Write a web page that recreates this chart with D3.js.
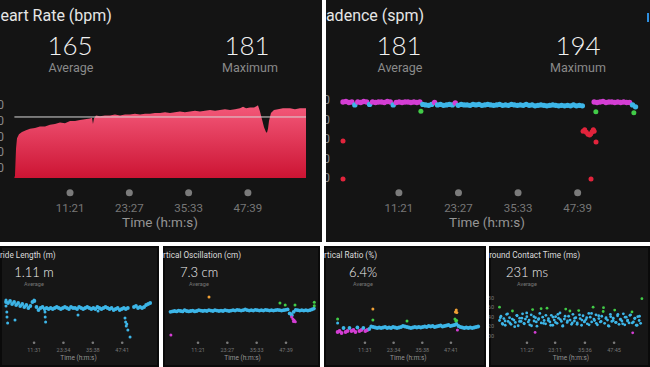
<!DOCTYPE html>
<html><head><meta charset="utf-8">
<script src="https://cdn.jsdelivr.net/npm/d3@7"></script>
<style>body{margin:0;background:#fff;overflow:hidden}svg{display:block;font-family:Roboto,"Helvetica Neue",Arial,sans-serif}.big{font-family:Lato,Roboto,sans-serif}</style>
</head><body><svg id="c" width="650" height="367"></svg>
<script>
// ---------------- DATA ----------------
const timeDomain = [0, 3570];
const mainTickSec = [681, 1407, 2133, 2859];
const mainTickLabels = ["11:21", "23:27", "35:33", "47:39"];

// Heart rate
const hrTime = [0,7,20,32,56,93,142,191,252,313,375,436,497,558,619,681,742,803,864,925,950,962,974,999,1048,1109,1170,1231,1293,1354,1415,1476,1538,1599,1660,1721,1783,1844,1905,1966,2027,2088,2150,2211,2272,2333,2395,2456,2517,2578,2640,2701,2762,2799,2836,2885,2934,2970,2982,3007,3031,3056,3080,3092,3105,3117,3141,3178,3227,3288,3374,3435,3496,3570];
const hrBpm = [88,90,125,138,143,146,148,150,151,153,153,155,156,158,157,160,160,161,162,163,164,156,163,167,166,167,167,168,167,168,168,169,168,169,169,170,170,171,170,171,172,171,172,173,172,173,174,173,174,175,174,175,176,178,176,177,177,179,180,172,162,152,146,145,150,160,170,174,175,176,176,175,176,176];
const hrAverage = 165, hrMaximum = 181;
const hrAxisTicks = [100, 120, 140, 160, 180];

// Cadence (sampled every 36 s)
const cadInterval = 36;
const cadValues = [186,187,185,186,180,186,185,187,186,181,186,185,186,186,185,187,186,180,185,186,185,186,186,185,186,185,186,
181,180,179,181,185,180,181,179,180,181,
180,184,179,181,180,180,179,181,180,181,
179,180,181,180,179,180,181,179,180,179,
181,180,179,180,179,181,179,180,178,179,
180,179,178,179,180,179,178,179,178,179,
178,180,178,179,178,
null,null,null,
186,185,186,187,185,186,186,185,186,185,186,185,185,
180,176];
const cadExtras = [[949,167],[3081,166],[3544,164],[0,106],[0,28],[2925,126],[2945,129],[2965,124],[2985,120],[3005,118],[3020,121],[3035,125],[3050,129],[3060,126],[3083,104],[3022,28]];
const cadAverage = 181, cadMaximum = 194;
const cadAxisTicks = [30, 70, 110, 150, 190];
const cadThresholds = [153, 164, 174, 183];

// Stride length (every 50 s)
const strideInterval = 50;
const strideValues = [1.18,1.17,1.19,1.16,1.18,1.15,1.17,1.14,1.16,1.13,
1.15,1.12,1.14,1.18,1.19,1.13,1.10,1.12,1.13,1.11,
1.12,1.11,1.12,1.11,1.12,1.13,1.12,1.11,1.12,1.13,
1.12,1.11,1.13,1.12,1.12,1.11,1.13,1.12,1.11,1.12,
1.13,1.12,1.11,1.12,1.11,1.13,1.12,1.11,1.12,1.13,
1.12,1.11,1.12,1.10,1.11,1.12,1.10,1.11,1.12,1.11,
1.12,null,null,1.13,1.14,1.12,1.13,1.12,1.13,1.15,1.16,1.17];
const strideExtras = [[0,1.20],[0,1.14],[20,1.08],[25,1.03],[40,0.97],[222,1.00],[690,1.20],[960,1.08],[965,1.03],[975,0.98],[1773,1.05],[2266,1.09],[2930,1.02],[2945,0.98],[2960,0.94],[2975,0.96],[3000,0.90],[3054,0.83]];
const strideTickSec = [691, 1414, 2138, 2861];
const strideTickLabels = ["11:31", "23:34", "35:38", "47:41"];

// Vertical oscillation (every 50 s)
const voInterval = 50;
const voValues = [7.2,7.25,7.3,7.25,7.35,7.3,7.25,7.4,7.3,7.25,
7.3,7.35,7.25,7.3,7.4,7.35,7.3,7.35,7.3,7.4,
7.35,7.3,7.4,7.35,7.3,7.35,7.3,7.4,7.35,7.3,
7.35,7.4,7.35,7.45,7.4,7.35,7.4,7.5,7.4,7.35,
7.4,7.35,7.45,7.4,7.35,7.4,7.35,7.45,7.4,7.35,
7.4,7.35,7.4,7.45,7.4,7.35,7.4,7.45,7.5,7.0,
6.8,7.2,7.45,7.4,7.35,7.4,7.35,7.4,7.35,7.4,7.5,7.6];
const voExtras = [[953,9.05],[10,4.3],[2710,8.3],[2840,8.05],[3082,8.05],[3560,8.4],[3560,7.95],[2990,6.95],[3010,6.75],[3000,6.55],[3030,6.3],[3045,6.0],[3060,6.15],[3090,5.95]];
const voThresholds = [6.6, 7.8, 8.8];

// Vertical ratio (every 50 s)
const vrInterval = 50;
const vrValues = [5.9,6.0,5.8,6.3,5.9,6.0,6.3,6.0,6.1,5.9,
6.35,6.0,6.1,6.3,6.0,6.1,6.2,6.45,6.4,6.35,
6.3,6.35,6.3,6.35,6.4,6.3,6.35,6.3,6.4,6.35,
6.3,6.35,6.4,6.5,6.45,6.4,6.35,6.3,6.35,6.4,
6.35,6.4,6.35,6.4,6.45,6.4,6.5,6.45,6.5,6.4,
6.45,6.5,6.55,6.45,6.5,6.55,6.6,6.5,6.55,6.6,
6.7,6.5,6.4,6.35,6.3,6.35,6.3,6.35,6.3,6.35,6.4,6.45];
const vrExtras = [[0,7.2],[0,6.8],[891,8.2],[891,7.1],[1752,7.0],[2962,7.2],[2985,7.0],[3005,7.05],[2975,7.9],[2995,8.1],[3010,7.85],[3025,6.1]];
const vrThresholds = [6.2, 6.9, 7.7];

// Ground contact time
const gctInterval = 36;
const gctValues = [232,241,226,236,222,245,230,238,224,252,233,228,243,221,237,230,246,226,235,240,
229,223,244,255,231,238,220,234,247,227,239,232,225,258,236,229,243,222,233,240,
226,237,248,230,221,235,256,228,241,233,224,245,231,238,227,253,236,222,242,230,
234,225,247,239,229,260,232,244,223,236,229,241,251,226,238,233,220,245,230,237,
254,228,242,224,235,231,246,223,239,233,227,244,250,229,237,222,240,232,226];
const gctInterval2 = 60, gctOffset2 = 20;
const gctValues2 = [238,224,231,246,227,235,219,242,230,237,225,248,233,221,240,229,236,257,226,243,232,222,239,228,245,234,220,241,231,252,227,237,224,244,233,229,238,223,247,235,226,242,230,259,236,221,240,232,228,245,234,225,239,231,243,227,236,222,241];
const gctExtras = [[890,207],[3330,206],[3560,278],[0,260]];
const gctThresholds = [218, 249, 290];
const gctAxisTicks = [200, 220, 240, 260, 280];
const gctTickSec = [687, 1391, 2136, 2865];
const gctTickLabels = ["11:27", "23:11", "35:36", "47:45"];

// ---------------- DRAWING ----------------
const C = {magenta:"#d43ed4", cyan:"#3db6e8", green:"#42cc48", orange:"#f0a035", red:"#e2243c"};
const svg = d3.select("#c");
const defs = svg.append("defs");

function panel(id, x, y, w, h, fill) {
  defs.append("clipPath").attr("id", id).append("rect").attr("x", x).attr("y", y).attr("width", w).attr("height", h);
  const g = svg.append("g").attr("clip-path", `url(#${id})`);
  g.append("rect").attr("x", x).attr("y", y).attr("width", w).attr("height", h).attr("fill", fill);
  return g;
}
function txt(g, x, y, s, size, fill, anchor, weight) {
  return g.append("text").attr("x", x).attr("y", y).attr("font-size", size).attr("fill", fill)
    .attr("text-anchor", anchor || "middle").attr("font-weight", weight || 400).text(s);
}
function big(g, x, y, s, size) {
  return txt(g, x, y, s, size, "#f2f2f2", "middle", 300).attr("class", "big");
}
function series(values, interval, offset) {
  return values.map((v, i) => ({t: offset + i * interval, v})).filter(d => d.v != null);
}
function dots(g, data, x, y, r, col) {
  g.selectAll(null).data(data).enter().append("circle")
    .attr("cx", d => x(d.t)).attr("cy", d => y(d.v)).attr("r", r).attr("fill", d => col(d.v));
}
function timeAxis(g, x, secs, labels, dotY, dotR, labY, labSize, titleX, titleY, titleSize) {
  g.selectAll(null).data(secs).enter().append("circle")
    .attr("cx", d => x(d)).attr("cy", dotY).attr("r", dotR).attr("fill", "#7b7b7b");
  g.selectAll(null).data(secs).enter().append("text")
    .attr("x", d => x(d)).attr("y", labY).attr("text-anchor", "middle")
    .attr("font-size", labSize).attr("fill", "#777").text((d, i) => labels[i]);
  txt(g, titleX, titleY, "Time (h:m:s)", titleSize, "#959595");
}

// ---- Heart rate panel ----
const g0 = panel("p0", 0, 0, 322, 242, "#141414");
txt(g0, -11, 21, "Heart Rate (bpm)", 16, "#e6e6e6", "start");
big(g0, 70, 54.5, String(hrAverage), 26);
txt(g0, 71, 72, "Average", 12.5, "#8a8a8a");
big(g0, 247, 54.5, String(hrMaximum), 26);
txt(g0, 250, 72, "Maximum", 12.5, "#8a8a8a");
const hx = d3.scaleLinear().domain(timeDomain).range([14.4, 306]);
const hy = d3.scaleLinear().domain([100, 180]).range([168, 105.2]);
const plotBottom = 178;
const grad = defs.append("linearGradient").attr("id", "hrg").attr("gradientUnits", "userSpaceOnUse")
  .attr("x1", 0).attr("x2", 0).attr("y1", 104).attr("y2", plotBottom);
grad.append("stop").attr("offset", 0).attr("stop-color", "#f45a7b");
grad.append("stop").attr("offset", 1).attr("stop-color", "#cc1433");
const hrData = hrTime.map((t, i) => ({t, v: hrBpm[i]}));
g0.append("path").datum(hrData)
  .attr("d", d3.area().x(d => hx(d.t)).y0(plotBottom).y1(d => Math.min(plotBottom, hy(d.v))))
  .attr("fill", "url(#hrg)");
g0.append("line").attr("x1", hx(0)).attr("x2", hx(timeDomain[1])).attr("y1", hy(hrAverage)).attr("y2", hy(hrAverage))
  .attr("stroke", "#d8d8d8").attr("stroke-width", 1);
g0.selectAll(null).data(hrAxisTicks).enter().append("text")
  .attr("x", 4).attr("y", d => hy(d) + 4).attr("text-anchor", "end").attr("font-size", 12).attr("fill", "#8a8a8a").text(d => d);
timeAxis(g0, hx, mainTickSec, mainTickLabels, 192.7, 3.5, 211.5, 11.5, 160, 226.5, 13.5);

// ---- Cadence panel ----
const g1 = panel("p1", 326, 0, 324, 242, "#141414");
txt(g1, 315.5, 21, "Cadence (spm)", 16, "#e6e6e6", "start");
big(g1, 399, 54.5, String(cadAverage), 26);
txt(g1, 400, 72, "Average", 12.5, "#8a8a8a");
big(g1, 578, 54.5, String(cadMaximum), 26);
txt(g1, 578, 72, "Maximum", 12.5, "#8a8a8a");
const cx = d3.scaleLinear().domain(timeDomain).range([343, 636]);
const cy = d3.scaleLinear().domain([30, 190]).range([178, 100]);
const cadCol = d3.scaleThreshold().domain(cadThresholds).range([C.red, C.orange, C.green, C.cyan, C.magenta]);
g1.selectAll(null).data(cadAxisTicks).enter().append("text")
  .attr("x", 330).attr("y", d => cy(d) + 4).attr("text-anchor", "end").attr("font-size", 12).attr("fill", "#8a8a8a").text(d => d);
dots(g1, series(cadValues, cadInterval, 0), cx, cy, 2.7, cadCol);
dots(g1, cadExtras.map(([t, v]) => ({t, v})), cx, cy, 2.5, cadCol);
timeAxis(g1, cx, mainTickSec, mainTickLabels, 192.7, 3.5, 211.5, 11.5, 487, 226.5, 13.5);
g1.append("rect").attr("x", 647).attr("y", 13).attr("width", 2).attr("height", 9).attr("fill", "#2e8fe0");

// ---- Bottom panels ----
function bottomPanel(id, x0, w, title, titleX, valueText, valueX, xr, ticks, tickLabels) {
  const g = panel(id, x0, 246, w, 121, "#161616");
  g.append("rect").attr("x", x0 + 1).attr("y", 247).attr("width", w - 2).attr("height", 119)
    .attr("fill", "none").attr("stroke", "#0a0a0a").attr("stroke-width", 2);
  txt(g, titleX, 258, title, 8.2, "#dcdcdc", "start");
  big(g, valueX, 277, valueText, 13);
  txt(g, valueX, 286, "Average", 5.5, "#777");
  const x = d3.scaleLinear().domain(timeDomain).range(xr);
  timeAxis(g, x, ticks, tickLabels, 342.7, 1.3, 352, 5.5, (xr[0] + xr[1]) / 2, 359.5, 6.5);
  return {g, x};
}

// Stride length
const b1 = bottomPanel("p2", 0, 159, "Stride Length (m)", -7.5, "1.11 m", 34, [6, 151], strideTickSec, strideTickLabels);
const sy = d3.scaleLinear().domain([0.8, 1.3]).range([340, 290]);
const sCol = () => C.cyan;
dots(b1.g, series(strideValues, strideInterval, 0), b1.x, sy, 1.9, sCol);
dots(b1.g, strideExtras.map(([t, v]) => ({t, v})), b1.x, sy, 1.5, sCol);

// Vertical oscillation
const b2 = bottomPanel("p3", 163, 157, "Vertical Oscillation (cm)", 153.7, "7.3 cm", 199, [170.5, 314.7], mainTickSec, mainTickLabels);
const vy = d3.scaleLinear().domain([4, 10]).range([337.4, 289.4]);
const voCol = d3.scaleThreshold().domain(voThresholds).range([C.magenta, C.cyan, C.green, C.orange]);
dots(b2.g, series(voValues, voInterval, 0), b2.x, vy, 1.9, voCol);
dots(b2.g, voExtras.map(([t, v]) => ({t, v})), b2.x, vy, 1.5, voCol);

// Vertical ratio
const b3 = bottomPanel("p4", 324, 162, "Vertical Ratio (%)", 314.7, "6.4%", 363, [337.6, 479], strideTickSec, strideTickLabels);
const ry = d3.scaleLinear().domain([5, 9]).range([341, 301]);
const vrCol = d3.scaleThreshold().domain(vrThresholds).range([C.magenta, C.cyan, C.green, C.orange]);
dots(b3.g, series(vrValues, vrInterval, 0), b3.x, ry, 1.9, vrCol);
dots(b3.g, vrExtras.map(([t, v]) => ({t, v})), b3.x, ry, 1.5, vrCol);

// Ground contact time
const b4 = bottomPanel("p5", 489, 161, "Ground Contact Time (ms)", 483.6, "231 ms", 527, [499.5, 642.3], gctTickSec, gctTickLabels);
const gy = d3.scaleLinear().domain([200, 280]).range([335.7, 297.7]);
const gctCol = d3.scaleThreshold().domain(gctThresholds).range([C.magenta, C.cyan, C.green, C.orange]);
b4.g.selectAll(null).data(gctAxisTicks).enter().append("text")
  .attr("x", 494).attr("y", d => gy(d) + 2).attr("text-anchor", "end").attr("font-size", 5.5).attr("fill", "#777").text(d => d);
dots(b4.g, series(gctValues, gctInterval, 0), b4.x, gy, 1.4, gctCol);
dots(b4.g, series(gctValues2, gctInterval2, gctOffset2), b4.x, gy, 1.4, gctCol);
dots(b4.g, gctExtras.map(([t, v]) => ({t, v})), b4.x, gy, 1.4, gctCol);
</script></body></html>
